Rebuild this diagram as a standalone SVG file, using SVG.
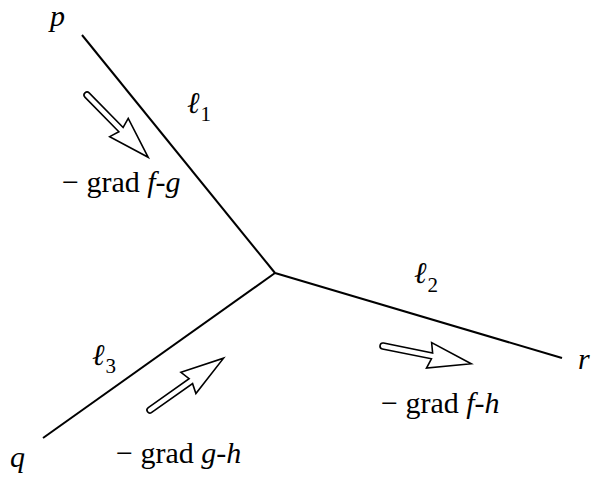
<svg xmlns="http://www.w3.org/2000/svg" width="596" height="477" viewBox="0 0 596 477">
<style>
.ln{stroke:#000;stroke-width:2;fill:none}
.ar{stroke:#000;stroke-width:1.6;fill:#fff;stroke-linejoin:miter}
text{font-family:"Liberation Serif","DejaVu Serif","Times New Roman",serif;font-size:30px;fill:#000}
.it{font-style:italic}
.sub{font-size:21px;font-style:normal}
</style>
<defs>
<path id="harrow" d="M0,-3 L50,-3 L47,-13 L90,0 L47,13 L50,3 L0,3 A3,3 0 0 1 0,-3 Z"/>
</defs>
<g id="connectors">
<line class="ln" x1="275" y1="273" x2="82" y2="35"/>
<line class="ln" x1="275" y1="273" x2="562" y2="358"/>
<line class="ln" x1="275" y1="273" x2="43" y2="438"/>
</g>
<g id="arrow-fg"><use href="#harrow" class="ar" transform="translate(87,95) rotate(45.5) scale(0.97,1)"/></g>
<g id="arrow-fh"><use href="#harrow" class="ar" transform="translate(383,346) rotate(11.4)"/></g>
<g id="arrow-gh"><use href="#harrow" class="ar" transform="translate(150,410) rotate(-35.2)"/></g>
<g id="labels">
<text class="it" x="50" y="26">p</text>
<text class="it" x="10" y="467">q</text>
<text class="it" x="578" y="369">r</text>
<text class="it" x="187" y="113">ℓ<tspan class="sub" dx="1" dy="8">1</tspan></text>
<text class="it" x="414" y="283">ℓ<tspan class="sub" dx="1" dy="9">2</tspan></text>
<text class="it" x="92" y="365">ℓ<tspan class="sub" dx="1" dy="8">3</tspan></text>
<text x="62" y="192">− grad <tspan class="it">f</tspan>-<tspan class="it">g</tspan></text>
<text x="381" y="413">− grad <tspan class="it">f</tspan>-<tspan class="it">h</tspan></text>
<text x="116" y="463">− grad <tspan class="it">g</tspan>-<tspan class="it">h</tspan></text>
</g>
</svg>
